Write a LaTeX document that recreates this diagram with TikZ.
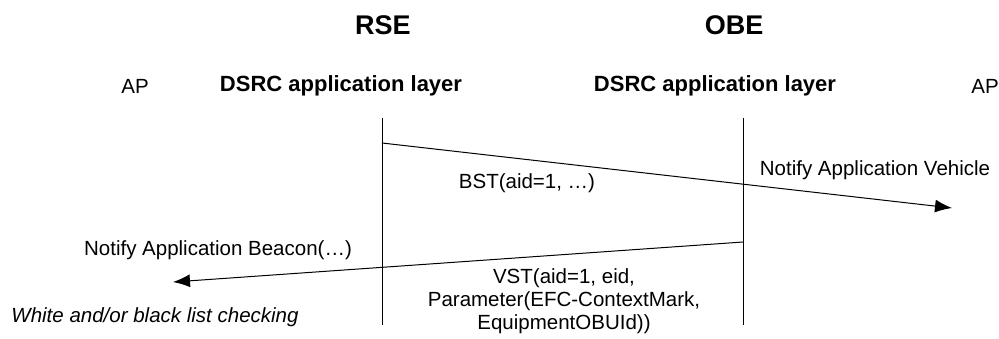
\documentclass[tikz,border=0pt]{standalone}
\usepackage{fontspec}
\setmainfont{Liberation Sans}
\usetikzlibrary{arrows.meta}
\begin{document}
\begin{tikzpicture}[x=1pt,y=-1pt,
  txt/.style={inner sep=0pt, font=\fontsize{20.5}{24.5}\selectfont},
  bold/.style={inner sep=0pt, font=\fontsize{22}{26}\selectfont\bfseries},
  title/.style={inner sep=0pt, font=\fontsize{27}{32}\selectfont\bfseries},
  lifeline/.style={draw=black, line width=1pt},
  msg/.style={draw=black, line width=1pt, -{Latex[length=17pt,width=13pt]}}]
\useasboundingbox (0,0) rectangle (999,338);

% entity headings
\node[title] (rse) at (383,25) {RSE};
\node[title] (obe) at (734,25) {OBE};
\node[txt] (apL) at (135,86) {AP};
\node[bold] (dsrcL) at (341,86) {DSRC application layer};
\node[bold] (dsrcR) at (715,86) {DSRC application layer};
\node[txt] (apR) at (985,86) {AP};

% lifelines
\coordinate (rseTop) at (382,118);
\coordinate (rseBot) at (382,325);
\coordinate (obeTop) at (743,118);
\coordinate (obeBot) at (743,325);
\draw[lifeline] (rseTop) -- (rseBot);
\draw[lifeline] (obeTop) -- (obeBot);

% BST from RSE towards the vehicle AP
\coordinate (bstStart) at (382,143);
\coordinate (bstEnd) at (952,208);
\draw[msg] (bstStart) -- (bstEnd);
\node[txt] (bst) at (527,183) {BST(aid=1, \dots)};
\node[txt] (notifyV) at (875,170) {Notify Application Vehicle};

% VST from OBE back towards the roadside AP
\coordinate (vstStart) at (743,242);
\coordinate (vstEnd) at (173,282);
\draw[msg] (vstStart) -- (vstEnd);
\node[txt] (notifyB) at (218,250) {Notify Application Beacon(\dots)};
\node[txt, align=center, font=\fontsize{20.5}{23}\selectfont] (vst) at (564,301)
  {VST(aid=1, eid,\\Parameter(EFC-ContextMark,\\EquipmentOBUId))};
\node[txt, font=\fontsize{20.5}{24.5}\selectfont\itshape] (check) at (155,317)
  {White and/or black list checking};
\end{tikzpicture}
\end{document}
